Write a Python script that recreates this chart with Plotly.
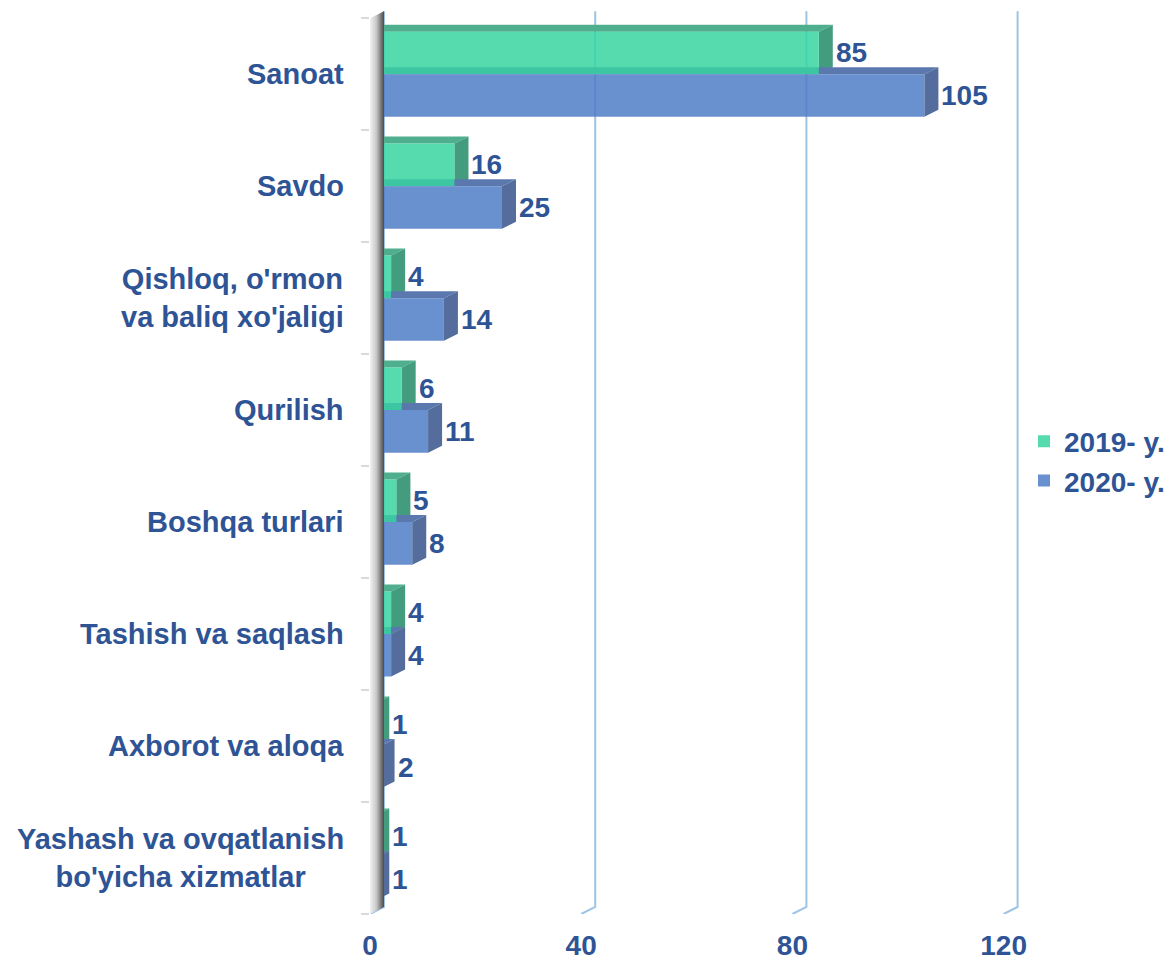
import plotly.graph_objects as go

# categories (top to bottom) and values
categories = ["Sanoat", "Savdo", "Qishloq, o'rmon<br>va baliq xo'jaligi", "Qurilish",
              "Boshqa turlari", "Tashish va saqlash", "Axborot va aloqa",
              "Yashash va ovqatlanish<br>bo'yicha xizmatlar"]
v2019 = [85, 16, 4, 6, 5, 4, 1, 1]
v2020 = [105, 25, 14, 11, 8, 4, 2, 1]
series_names = ["2019- y.", "2020- y."]
x_ticks = [0, 40, 80, 120]

TEXT = "#2E5496"
FONT = "Liberation Sans"
FS = 28

# layout geometry
W, H = 1176, 963
L, R, T, B = 370, 146, 7, 49
XMAX = 125
PXU = (W - L - R) / XMAX           # px per x unit
PYU = (H - T - B) / 8.1            # px per category slot
DX = 14 / PXU                      # 3D depth in x units
DY = 7 / PYU                       # 3D depth in y units
BW = 0.38                          # bar thickness in y units

ypos = list(range(len(categories)))

fig = go.Figure()

# grey 3D side of the category axis
fig.add_trace(go.Scatter(
    x=[0, DX, DX, 0, 0], y=[7.5, 7.5 - DY, -0.5 - DY, -0.5, 7.5],
    fill="toself", mode="lines", line=dict(width=0),
    fillgradient=dict(type="horizontal",
                      colorscale=[[0, "#f2f2f2"], [0.45, "#c8c8c8"], [1, "#4a4a4a"]]),
    showlegend=False, hoverinfo="skip"))

fronts = ["rgba(55,213,160,0.85)", "rgba(79,125,199,0.85)"]
tops = ["#4FAE8E", "#5A78AD"]
sides = ["#449C7F", "#546D9C"]
shapes = []

# back-wall gridlines
for t in x_ticks:
    shapes.append(dict(type="path", xref="x", yref="y", layer="below",
                       path=f"M {t + DX},{-0.5 - DY} L {t + DX},{7.5 - DY} L {t},{7.5}",
                       line=dict(color="#9DC3E6", width=2)))

annotations = []
for k, vals in enumerate([v2019, v2020]):
    fig.add_trace(go.Bar(
        x=vals, y=ypos, orientation="h", name=series_names[k],
        legendgroup=series_names[k],
        marker=dict(color=fronts[k], line=dict(width=0)),
        hoverinfo="x+name"))
    for i, v in enumerate(vals):
        yc = i + (k - 0.5) * BW
        top, bot = yc - BW / 2, yc + BW / 2
        # top face
        shapes.append(dict(type="path", xref="x", yref="y", layer="between",
                           path=f"M 0,{top} L {v},{top} L {v + DX},{top - DY} L {DX},{top - DY} Z",
                           fillcolor=tops[k], line=dict(width=0)))
        # side face
        shapes.append(dict(type="path", xref="x", yref="y", layer="between",
                           path=f"M {v},{top} L {v + DX},{top - DY} L {v + DX},{bot - DY} L {v},{bot} Z",
                           fillcolor=sides[k], line=dict(width=0)))
        annotations.append(dict(x=v, y=yc, xref="x", yref="y", text=str(v),
                                xanchor="left", yanchor="middle", xshift=15, showarrow=False,
                                font=dict(family=FONT, size=FS, color=TEXT, weight="bold")))

for i, c in enumerate(categories):
    annotations.append(dict(x=0, y=i, xref="paper", yref="y", text=c, align="center",
                            xanchor="right", yanchor="middle", xshift=-24, showarrow=False,
                            font=dict(family=FONT, size=29, color=TEXT, weight="bold")))

fig.update_layout(
    width=W, height=H,
    margin=dict(l=L, r=R, t=T, b=B, autoexpand=False),
    plot_bgcolor="white", paper_bgcolor="white",
    barmode="group", bargap=0.24, bargroupgap=0,
    shapes=shapes, annotations=annotations,
    font=dict(family=FONT, size=FS, color=TEXT, weight="bold"),
    xaxis=dict(range=[0, XMAX], tickvals=x_ticks, showgrid=False, zeroline=False,
               showline=False, ticks="", ticklabelstandoff=12,
               automargin=False,
               tickfont=dict(family=FONT, size=FS, color=TEXT, weight="bold")),
    yaxis=dict(range=[7.5, -0.6], tickvals=[i - 0.5 for i in range(9)], showticklabels=False,
               ticks="outside", ticklen=8, tickwidth=2, tickcolor="#D9D9D9",
               showgrid=False, zeroline=False, showline=False, automargin=False),
    legend=dict(x=(1024 - L) / (W - L - R), y=(H - B - 461) / (H - T - B),
                xanchor="left", yanchor="middle", traceorder="normal",
                tracegroupgap=14,
                font=dict(family=FONT, size=FS, color=TEXT, weight="bold"),
                bgcolor="rgba(0,0,0,0)"),
)

fig.write_html("out.html", config={"displayModeBar": False},
               post_script="document.body.style.margin='0';")
